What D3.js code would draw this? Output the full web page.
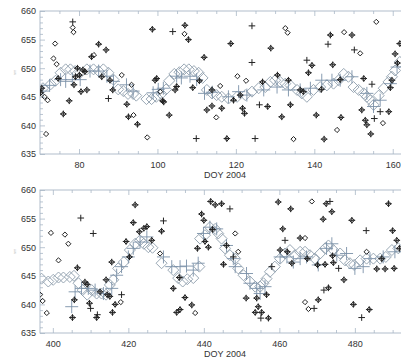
<!DOCTYPE html>
<html><head><meta charset="utf-8">
<script src="https://cdn.jsdelivr.net/npm/d3@7"></script>
<style>html,body{margin:0;padding:0;background:#fff;}svg{display:block;}</style>
</head><body>
<script>
// ---------- DATA (day of year, value) ----------
const xTitle = "DOY 2004";
const yTicksMajor = [635, 640, 645, 650, 655, 660];

// Top panel
const topBigDiamond = [[70.8,646.5],[72.8,647.2],[74,647.8],[75.3,649.2],[76.6,649.8],[77.8,649.8],[79,649.5],[80.3,649.2],[82,649.8],[83.7,649.8],[85,649.5],[86.2,649.8],[87.5,649.2],[88.8,648],[90,646.3],[91.3,646],[92.5,645.5],[93.8,645.5],[94.6,645.2],[97.2,644.6],[98.5,644.6],[99.7,645],[101,645.5],[102.2,646.3],[103,647.8],[104.3,649],[105.6,649.3],[106.8,649.8],[108,649.8],[109.3,649.5],[110.5,649.2],[111.5,648.3],[112.6,646.2],[113.9,645.6],[115.1,645.3],[116.4,645],[118.1,644.7],[120.3,645],[122.4,645.3],[124.1,645.9],[125.8,646.5],[127.5,646.7],[128.8,647.6],[130,647.9],[131.3,647.6],[132.6,647.3],[133.9,647],[135.6,646.2],[136.8,645.6],[138.1,645],[139.8,646.2],[141.5,646.7],[143.2,647],[144.9,647.3],[146.2,647.9],[147.5,649],[148.7,648.5],[150,646.7],[151.3,646.2],[152.6,645.6],[153.4,645],[154.3,644.4],[155.1,643.6],[156.4,645.2],[157.7,646.5],[158.9,647.6],[159.8,648.5],[160.6,649.6],[161.8,651.1]];
const topBigPlus = [[70.8,646],[72.5,647],[75.3,648],[76.6,647.7],[78.3,648],[80.3,648],[82.8,649.5],[85,649.5],[87.1,648.6],[88.8,647.7],[92.1,647.1],[93.8,646],[98.9,645.7],[100.2,646.3],[101.5,646.5],[104.9,648.6],[106.1,648.3],[108.3,648.6],[110,648],[112,645.6],[114,645.8],[118.1,645],[120.7,645.9],[122.8,645.3],[127.1,646.2],[130.5,646.7],[133.4,646.2],[136.4,646.2],[139,646.5],[141.9,647.9],[144.5,647.9],[146.6,647.9],[149.6,648.5],[153.4,645.6],[155.1,643.3],[156.8,644.4],[159.4,647.3],[161.1,650.2]];
const topSmallDiamond = [[71.2,645],[72,644.4],[71.6,638.5],[73.5,651.7],[73.9,654.3],[74.3,650.7],[78.4,657.1],[78.6,656.3],[83.8,652.3],[90.9,648.8],[93.4,647.1],[93.9,641.8],[97.4,637.9],[100.7,645.9],[106.9,656],[115,641.4],[116,646.9],[120.4,648.6],[122.6,647.8],[132.6,657],[133.2,656.2],[134.7,637.6],[145.8,639.2],[147.6,656.3],[151.7,652.6],[155.8,658.1],[157.5,640.4]];
const topSmallPlus = [[78.4,658.1],[87.5,644.7],[103.9,656.4],[109.9,637.7],[124.1,657.4],[124.1,651],[124.9,637.7],[126,643.6],[138.1,651.4],[143.5,654.2],[150.2,653.2],[154.7,647.2],[155.3,641.2],[156.8,642.4]];
const topBoth = [[70.2,645.7],[70.5,646.5],[74.7,648.2],[76,642],[77.5,644.3],[78.7,647.1],[79.1,648.5],[79.6,650],[80.1,648.8],[80.5,645.9],[81,649.7],[81.5,649.4],[82,646.2],[83.2,652],[85,654.2],[85.8,648.5],[86.9,653.2],[87.9,647.9],[88.6,646.2],[92.2,643.7],[92.6,641.5],[94.9,640.2],[98.7,656.8],[99.4,647.9],[99.8,648.2],[101.3,644.3],[101.6,644.1],[103,641.8],[104.5,646.2],[104.9,646.8],[107,657.5],[107.9,655],[109,646.6],[110.7,647.8],[111.9,651.9],[112.6,642.7],[113.9,646.2],[113.9,643.4],[116.4,643],[117.7,637.7],[118.7,654.3],[119.4,644.4],[121.1,645.3],[121.7,643],[122.2,642.1],[126.8,647.6],[128.1,643.3],[128.9,653.5],[130.6,648.8],[131.7,641.5],[133.4,647.9],[133.9,643.6],[136.4,646.2],[137.2,645.9],[138.5,649.2],[139.4,650.5],[140.5,641.8],[141.8,646.3],[142.5,637.6],[144.1,655.8],[144.7,650.6],[146.6,648],[146.8,641.4],[149.6,655.8],[152.1,642.7],[152.6,648.2],[153,640.9],[153.4,640.1],[154.4,638.5],[159,642.4],[159.4,646.6],[159.8,647.9],[160.6,652.5],[161.2,650.9],[161.8,654.3]];

// Bottom panel
const botBigDiamond = [[397,644.5],[398.8,644],[400.1,644.3],[401.5,644.7],[402.8,644.7],[404.5,644.8],[405.6,645],[406.8,643.7],[407.9,642.5],[409.1,641.7],[410.3,642.5],[411.6,641.9],[412.9,641.9],[414.1,641.7],[415.1,643.4],[416,644.3],[417.3,646.3],[418.8,647.4],[420.4,649.5],[421.8,650.6],[423.1,651.2],[424.1,650.6],[425.3,650],[426.4,649.9],[428.8,647.2],[431.9,646],[433.2,644.6],[434.4,644],[435.6,644.4],[437.2,644.6],[438.8,646.6],[439,651.5],[440.3,652.1],[441.6,653.5],[443,653.2],[443.8,652.4],[444.7,651.5],[445.6,649.8],[446.9,648.6],[448.3,648],[449.1,646.3],[450.5,645.1],[452.2,644],[453.6,643.1],[454.9,643.1],[455.8,643.7],[456.6,644.5],[457.5,645.7],[458.8,646.6],[460.2,648],[461.5,648.9],[462.8,649.5],[464.1,648.6],[465.5,649.2],[466.8,649.2],[468.1,648.6],[469.4,648],[470.8,648.9],[472.1,649.8],[473,650.3],[474.3,649.5],[476.1,648.9],[477.4,647.7],[478.7,647.2],[479.8,646.9],[481.4,647.7],[483.1,648],[484.9,648],[486.7,648],[488.2,648.3],[489.8,649.5],[491.5,649.8]];
const botBigPlus = [[405,639.6],[405.9,642.2],[407.6,642.8],[409.4,642.8],[411.2,642.5],[413.4,641.9],[415.6,642.8],[416.9,645.1],[418.2,646.6],[420,648.3],[421.3,649.8],[423.1,650.9],[424.9,651.8],[429.3,648.3],[431.5,646.6],[433.7,646.6],[435.4,646.7],[437.2,646],[438.5,647.2],[439.9,652.4],[441.6,653.5],[443.4,653.2],[446,650.3],[447.8,648],[448.3,646.6],[451.3,645.4],[452.2,643.7],[454,642.8],[454.9,641.9],[456.2,643.1],[460.2,648.3],[462,648.3],[463.7,647.4],[465.5,648],[467.2,648.3],[470.3,646.9],[472.5,649.8],[473.9,650.6],[475.2,648.6],[477.8,648.9],[480,646.3],[482.2,646.6],[484,648],[487.5,648.3],[490.6,649.2]];
const botSmallDiamond = [[396.6,641.7],[397.3,640.6],[398.4,638.5],[399.5,652.5],[401.5,647.7],[403.2,652.2],[404.1,650.6],[418,640.4],[428.4,648.9],[437.7,638.5],[448.3,652.4],[449.1,649.2],[466.8,651.6],[466.8,640.4],[467.7,639.2],[468.6,658],[483.1,649.2]];
const botSmallPlus = [[407.4,655.1],[410,639.3],[410.7,652.4],[411.8,638.2],[418.2,641.7],[429.3,654.6],[446.9,656.7],[447.8,648.3],[455.1,637.6],[458,646.6],[461.5,651.2],[469.2,639.3],[471.8,642.5],[473.4,658],[475.7,646.3],[481.8,637.7],[483,652.9]];
const botBoth = [[405.2,637.7],[405.7,640.8],[406.5,646.4],[408.5,643.9],[409.1,643.5],[409.7,640.2],[411.6,637.7],[412.5,642.2],[414.1,644.3],[414.4,641.7],[415.1,641.4],[415.6,647.4],[415.8,638.6],[416.5,640],[419.4,651],[420.3,648.3],[421.3,654.3],[421.8,657.4],[422.9,652.7],[424.1,653.3],[424.9,653.6],[426.2,651.2],[428.8,652.8],[431.9,642.8],[432.8,638.6],[433.5,644.7],[433.7,639.1],[435,641.2],[436.8,639.9],[438.3,649.8],[439.4,655.8],[440,654.7],[440.3,651],[441.2,650],[441.8,658],[443,657.4],[444.7,657.6],[442.3,653.1],[445.2,647],[446,650.3],[451.2,641.1],[453.6,638.6],[454,641.1],[454.4,639.6],[455.3,638.6],[456.6,641.7],[457.1,637.6],[459.7,657.9],[460.2,649.5],[460.9,653.2],[462.1,649.2],[463,656.7],[463.3,647.2],[465.5,651.6],[467.4,648],[470.1,646.9],[470.3,640.8],[471.6,654.9],[472.1,647],[472.4,657.6],[473,642.9],[473.9,656.2],[474.1,648.5],[474.3,647.3],[477.1,644.3],[479.2,654.7],[479.6,640],[483.8,639.1],[485.8,646.2],[487.1,648],[488,646.2],[488.9,657.6],[490,652.9],[490.4,646.3],[491.1,651.2],[491.8,649.8]];

// ---------- DRAWING ----------
const W = 401, H = 359;
const svg = d3.select("body").append("svg").attr("width", W).attr("height", H);
const axisColor = "#a9b7c6", labelColor = "#333", font = "Liberation Sans, Arial, Helvetica, sans-serif";
const fs = 9;

const panels = [
  {id:"top", dom:[70.05,164.4], top:11, bot:154, bigD:topBigDiamond, bigP:topBigPlus, smD:topSmallDiamond.concat(topBoth), smP:topSmallPlus.concat(topBoth)},
  {id:"bot", dom:[396.6,494.6], top:190, bot:333, bigD:botBigDiamond, bigP:botBigPlus, smD:botSmallDiamond.concat(botBoth), smP:botSmallPlus.concat(botBoth)}
];
const left = 40, right = 410;

const diamond = r => `M0,${-r}L${r},0L0,${r}L${-r},0Z`;
const plus = r => `M${-r},0H${r}M0,${-r}V${r}`;

panels.forEach(p => {
  const x = d3.scaleLinear().domain(p.dom).range([left, right]);
  const y = d3.scaleLinear().domain([635, 660]).range([p.bot, p.top]);
  const g = svg.append("g");

  const xMajor = d3.range(Math.ceil(p.dom[0]/20)*20, p.dom[1], 20);
  const xMinor = d3.range(Math.ceil(p.dom[0]/5)*5, p.dom[1], 5).filter(v => v % 20 !== 0);
  const yMinor = d3.range(636, 660, 1).filter(v => v % 5 !== 0);

  const styleAxis = sel => {
    sel.select(".domain").remove();
    sel.selectAll(".tick line").attr("stroke", axisColor).attr("stroke-width", 0.8);
    sel.selectAll(".tick text").attr("fill", labelColor).attr("font-family", font).attr("font-size", fs);
  };

  // bottom axis (labels + inward ticks)
  const xb = g.append("g").attr("transform", `translate(0,${p.bot})`)
    .call(d3.axisBottom(x).tickValues(xMajor).tickSizeInner(-5).tickSizeOuter(0).tickFormat(d3.format("d")))
    .call(styleAxis);
  xb.selectAll(".tick text").attr("y", 0).attr("dy", null).attr("transform", "translate(0,13.8)");
  g.append("g").attr("transform", `translate(0,${p.bot})`)
    .call(d3.axisBottom(x).tickValues(xMinor).tickSize(-3).tickFormat(""))
    .call(styleAxis);
  // top axis (mirror ticks)
  g.append("g").attr("transform", `translate(0,${p.top})`)
    .call(d3.axisTop(x).tickValues(xMajor).tickSize(-5).tickFormat(""))
    .call(styleAxis);
  g.append("g").attr("transform", `translate(0,${p.top})`)
    .call(d3.axisTop(x).tickValues(xMinor).tickSize(-3).tickFormat(""))
    .call(styleAxis);
  // left axis
  g.append("g").attr("transform", `translate(${left},0)`)
    .call(d3.axisLeft(y).tickValues(yTicksMajor).tickSizeInner(-5).tickSizeOuter(0).tickPadding(4).tickFormat(d3.format("d")))
    .call(styleAxis);
  g.append("g").attr("transform", `translate(${left},0)`)
    .call(d3.axisLeft(y).tickValues(yMinor).tickSize(-3).tickFormat(""))
    .call(styleAxis);

  // frame
  g.append("rect").attr("x", left).attr("y", p.top).attr("width", right-left).attr("height", p.bot-p.top)
    .attr("fill", "none").attr("stroke", axisColor).attr("stroke-width", 0.9);

  // x title
  g.append("text").attr("x", (left+right)/2).attr("y", p.bot + 24).attr("text-anchor", "middle")
    .attr("font-family", font).attr("font-size", fs).attr("fill", labelColor).text(xTitle);

  // faint y title
  g.append("text").attr("transform", `translate(16,${(p.top+p.bot)/2 - 10}) rotate(-90)`)
    .attr("text-anchor", "middle").attr("font-family", font).attr("font-size", 4).attr("fill", "#bbb")
    .text("nm");

  // clip
  const clipId = "clip-" + p.id;
  svg.append("clipPath").attr("id", clipId).append("rect")
    .attr("x", left).attr("y", p.top).attr("width", right-left).attr("height", p.bot-p.top);
  const m = g.append("g").attr("clip-path", `url(#${clipId})`);

  m.selectAll("path.bd").data(p.bigD).join("path").attr("class","bd")
    .attr("transform", d => `translate(${x(d[0])},${y(d[1])})`).attr("d", diamond(5.5))
    .attr("fill", "none").attr("stroke", "#8d9dab").attr("stroke-width", 0.9);
  m.selectAll("path.bp").data(p.bigP).join("path").attr("class","bp")
    .attr("transform", d => `translate(${x(d[0])},${y(d[1])})`).attr("d", plus(6.5))
    .attr("fill", "none").attr("stroke", "#7b91a8").attr("stroke-width", 0.9);
  m.selectAll("path.sd").data(p.smD).join("path").attr("class","sd")
    .attr("transform", d => `translate(${x(d[0])},${y(d[1])})`).attr("d", diamond(2.6))
    .attr("fill", "none").attr("stroke", "#222").attr("stroke-width", 1);
  m.selectAll("path.sp").data(p.smP).join("path").attr("class","sp")
    .attr("transform", d => `translate(${x(d[0])},${y(d[1])})`).attr("d", plus(3.3))
    .attr("fill", "none").attr("stroke", "#222").attr("stroke-width", 1);
});
</script>
</body></html>
